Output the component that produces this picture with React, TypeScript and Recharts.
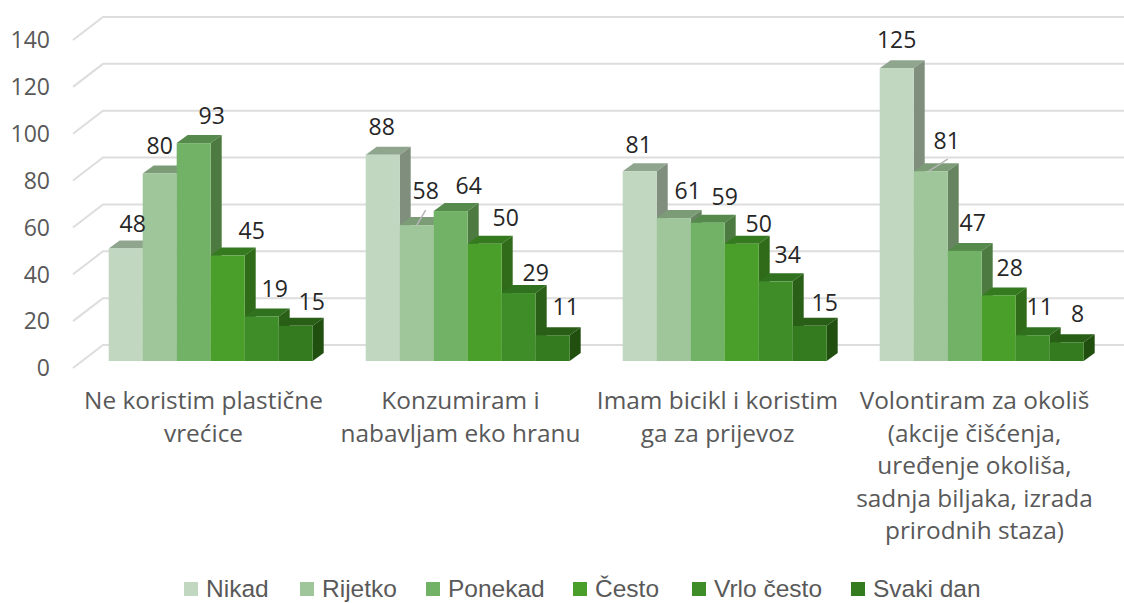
import React from "react";
import { BarChart, Bar, XAxis, YAxis, CartesianGrid, Legend, LabelList } from "recharts";

const categories = [
  "Ne koristim plastične\nvrećice",
  "Konzumiram i\nnabavljam eko hranu",
  "Imam bicikl i koristim\nga za prijevoz",
  "Volontiram za okoliš\n(akcije čišćenja,\nuređenje okoliša,\nsadnja biljaka, izrada\nprirodnih staza)",
];
const seriesNames = ["Nikad", "Rijetko", "Ponekad", "Često", "Vrlo često", "Svaki dan"];
const nikad = [48, 88, 81, 125];
const rijetko = [80, 58, 61, 81];
const ponekad = [93, 64, 59, 47];
const cesto = [45, 50, 50, 28];
const vrloCesto = [19, 29, 34, 11];
const svakiDan = [15, 11, 15, 8];
const seriesValues = [nikad, rijetko, ponekad, cesto, vrloCesto, svakiDan];
const yTicks = [0, 20, 40, 60, 80, 100, 120, 140];

const fronts = ["#C1D7BF", "#9FC69A", "#72B266", "#4A9F2B", "#3F8D28", "#347A1F"];
const tops = ["#90A58E", "#7C9C78", "#558A4C", "#357A1E", "#2F711F", "#285E16"];
const sides = ["#7F8E7D", "#66845F", "#4C7A40", "#2F6B18", "#2A5F17", "#204F10"];

// manual label placement per series / category: centre offset from the bar's top-centre
const labelOffsets = [
  [[7, -25], [-1, -28], [-1, -27], [0, -28]],
  [[0, -28], [9, -34], [14, -27], [16, -31]],
  [[18, -27], [18, -25], [17, -26], [8, -28]],
  [[24, -25], [21, -26], [17, -20], [11, -28]],
  [[13, -28], [17, -20], [12, -27], [7, -29]],
  [[16, -24], [13, -29], [15, -23], [11, -29]],
];
const leaders: Record<string, number[]> = {
  "1-1": [0, 0, 9, -15],
  "1-3": [-2, 0, 17, -12],
};
const legendLefts = [184, 300, 426, 573, 692, 851];

const FONT = "'Open Sans', Arial, sans-serif";
const LEGEND_FONT = "'Liberation Sans', Arial, sans-serif";
const FS = 23;
const FS_CAT = 24.4;
const FS_LEGEND = 24.5;
const AXIS = "#595959";
const LABEL = "#262626";
const GRID = "#DDDDDD";
const DX = 11;
const DY = 8;

const rows = categories.map((name, i) => {
  const row: Record<string, any> = { name };
  seriesNames.forEach((s, k) => (row[s] = seriesValues[k][i]));
  return row;
});

function Box3D(props: any) {
  const { x, y, width, height, seriesIndex } = props;
  const r = x + width;
  const b = y + height;
  return (
    <g>
      <polygon points={`${x},${y} ${x + DX},${y - DY} ${r + DX},${y - DY} ${r},${y}`} fill={tops[seriesIndex]} />
      <polygon points={`${r},${y} ${r + DX},${y - DY} ${r + DX},${b - DY} ${r},${b}`} fill={sides[seriesIndex]} />
      <rect x={x} y={y} width={width} height={height} fill={fronts[seriesIndex]} />
    </g>
  );
}

function gridLine(props: any) {
  const { x1, y1 } = props;
  const k = `grid-${y1}`;
  return (
    <polyline
      key={k}
      points={`${x1 - 10},${y1 + 7} ${x1 + 20},${y1 - 16} 1124,${y1 - 16}`}
      fill="none"
      stroke={GRID}
      strokeWidth={2}
    />
  );
}

function YTick(props: any) {
  const { y, payload } = props;
  return (
    <text x={50} y={y + 7} dy="0.36em" textAnchor="end" fill={AXIS} fontSize={FS} fontFamily={FONT}>
      {payload.value}
    </text>
  );
}

function XTick(props: any) {
  const { x, payload } = props;
  const lines = String(payload.value).split("\n");
  return (
    <text textAnchor="middle" fill={AXIS} fontSize={FS_CAT} fontFamily={FONT}>
      {lines.map((l, i) => (
        <tspan key={i} x={x - 8} y={409 + i * 32.5}>
          {l}
        </tspan>
      ))}
    </text>
  );
}

function makeLabel(seriesIndex: number) {
  return function BarLabel(props: any) {
    const vb = props.viewBox ?? props;
    const { x, y, width } = vb;
    const index = props.index;
    const value = props.value;
    const [dx, dy] = labelOffsets[seriesIndex][index];
    const cx = x + width / 2;
    const lead = leaders[`${seriesIndex}-${index}`];
    return (
      <g>
        {lead && (
          <line
            x1={cx + lead[0]}
            y1={y + lead[1]}
            x2={cx + lead[2]}
            y2={y + lead[3]}
            stroke="#B5B5B5"
            strokeWidth={1.5}
          />
        )}
        <text x={cx + dx} y={y + dy} dy="0.36em" textAnchor="middle" fill={LABEL} fontSize={FS} fontFamily={FONT}>
          {value}
        </text>
      </g>
    );
  };
}

function LegendBox(props: any) {
  const items = props.payload ?? [];
  return (
    <div style={{ position: "relative", width: 1124, height: 40 }}>
      {items.map((it: any) => {
        const i = seriesNames.indexOf(it.value);
        return (
          <div
            key={it.value}
            style={{
              position: "absolute",
              left: legendLefts[i],
              top: 12,
              height: 28,
              lineHeight: "28px",
              display: "flex",
              alignItems: "center",
              fontFamily: LEGEND_FONT,
              fontSize: FS_LEGEND,
              color: AXIS,
              whiteSpace: "nowrap",
            }}
          >
            <span style={{ width: 14, height: 14, background: fronts[i], marginRight: 8, display: "inline-block" }} />
            {it.value}
          </div>
        );
      })}
    </div>
  );
}

export default function App() {
  return (
    <div style={{ position: "absolute", left: 0, top: 0, width: 1124, height: 603, overflow: "hidden", background: "#fff" }}>
      <BarChart
        width={1124}
        height={603}
        data={rows}
        margin={{ top: 33, right: 13, bottom: 0, left: 0 }}
        barGap={0}
        barCategoryGap="10%"
      >
        <CartesianGrid vertical={false} horizontal={gridLine} />
        <XAxis dataKey="name" height={202} axisLine={false} tickLine={false} tick={XTick} interval={0} />
        <YAxis width={83} domain={[0, 140]} ticks={yTicks} axisLine={false} tickLine={false} tick={YTick} interval={0} />
        {seriesNames.map((s, k) => (
          <Bar
            key={s}
            dataKey={s}
            fill={fronts[k]}
            isAnimationActive={false}
            shape={(p: any) => <Box3D {...p} seriesIndex={k} />}
          >
            <LabelList dataKey={s} content={makeLabel(k)} />
          </Bar>
        ))}
        <Legend verticalAlign="bottom" height={40} itemSorter={null as any} content={LegendBox} />
      </BarChart>
    </div>
  );
}
